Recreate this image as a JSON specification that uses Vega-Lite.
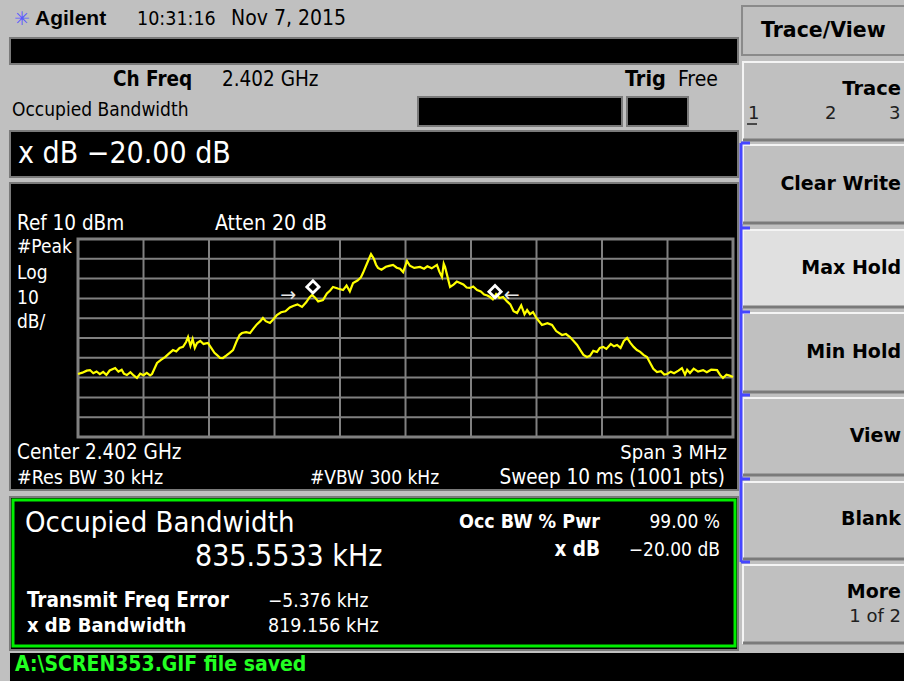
{
"$schema": "https://vega.github.io/schema/vega-lite/v6.json",
"width": 904, "height": 681, "padding": 0, "autosize": {"type": "none"},
"background": "#c0c0c0",
"config": {"view": {"stroke": null}, "axis": {"disable": true}},
"data": {"values": [{}]},
"datasets": {
"trace": [
{"f":-1.5,"dbm":-58.2},{"f":-1.48,"dbm":-57.5},{"f":-1.46,"dbm":-56.5},{"f":-1.445,"dbm":-56.2},{"f":-1.43,"dbm":-57.8},{"f":-1.415,"dbm":-56.9},{"f":-1.4,"dbm":-58.2},{"f":-1.385,"dbm":-57.1},{"f":-1.37,"dbm":-58.6},{"f":-1.355,"dbm":-56.4},{"f":-1.34,"dbm":-55.6},{"f":-1.33,"dbm":-55.2},{"f":-1.315,"dbm":-57.0},{"f":-1.3,"dbm":-56.0},{"f":-1.29,"dbm":-58.0},{"f":-1.276,"dbm":-58.7},{"f":-1.26,"dbm":-57.3},{"f":-1.245,"dbm":-58.9},{"f":-1.23,"dbm":-60.2},{"f":-1.215,"dbm":-58.0},{"f":-1.2,"dbm":-58.8},{"f":-1.185,"dbm":-57.6},{"f":-1.17,"dbm":-58.9},{"f":-1.161,"dbm":-58.2},{"f":-1.15,"dbm":-55.5},{"f":-1.138,"dbm":-52.6},{"f":-1.12,"dbm":-51.0},{"f":-1.1,"dbm":-49.5},{"f":-1.085,"dbm":-48.0},{"f":-1.065,"dbm":-46.1},{"f":-1.05,"dbm":-46.8},{"f":-1.035,"dbm":-45.0},{"f":-1.019,"dbm":-44.5},{"f":-1.005,"dbm":-42.0},{"f":-0.996,"dbm":-39.5},{"f":-0.985,"dbm":-44.0},{"f":-0.975,"dbm":-40.5},{"f":-0.965,"dbm":-45.0},{"f":-0.955,"dbm":-42.5},{"f":-0.94,"dbm":-41.5},{"f":-0.925,"dbm":-43.0},{"f":-0.905,"dbm":-42.5},{"f":-0.89,"dbm":-45.0},{"f":-0.875,"dbm":-47.5},{"f":-0.863,"dbm":-48.6},{"f":-0.85,"dbm":-50.0},{"f":-0.836,"dbm":-50.1},{"f":-0.82,"dbm":-48.8},{"f":-0.805,"dbm":-47.5},{"f":-0.79,"dbm":-46.1},{"f":-0.775,"dbm":-42.0},{"f":-0.76,"dbm":-38.5},{"f":-0.749,"dbm":-37.5},{"f":-0.73,"dbm":-37.0},{"f":-0.712,"dbm":-37.5},{"f":-0.695,"dbm":-35.0},{"f":-0.68,"dbm":-33.0},{"f":-0.665,"dbm":-31.5},{"f":-0.653,"dbm":-29.9},{"f":-0.64,"dbm":-31.5},{"f":-0.621,"dbm":-32.4},{"f":-0.605,"dbm":-30.5},{"f":-0.589,"dbm":-28.4},{"f":-0.57,"dbm":-27.0},{"f":-0.55,"dbm":-26.5},{"f":-0.53,"dbm":-24.6},{"f":-0.515,"dbm":-23.8},{"f":-0.495,"dbm":-23.0},{"f":-0.474,"dbm":-24.3},{"f":-0.455,"dbm":-22.0},{"f":-0.44,"dbm":-19.5},{"f":-0.428,"dbm":-18.3},{"f":-0.415,"dbm":-19.5},{"f":-0.4,"dbm":-21.5},{"f":-0.378,"dbm":-20.8},{"f":-0.36,"dbm":-17.5},{"f":-0.345,"dbm":-16.0},{"f":-0.332,"dbm":-14.2},{"f":-0.31,"dbm":-15.0},{"f":-0.286,"dbm":-15.8},{"f":-0.27,"dbm":-13.5},{"f":-0.255,"dbm":-16.5},{"f":-0.24,"dbm":-12.2},{"f":-0.22,"dbm":-11.0},{"f":-0.205,"dbm":-9.5},{"f":-0.195,"dbm":-7.2},{"f":-0.175,"dbm":-2.0},{"f":-0.158,"dbm":2.4},{"f":-0.145,"dbm":0.0},{"f":-0.135,"dbm":-3.0},{"f":-0.126,"dbm":-4.6},{"f":-0.11,"dbm":-5.5},{"f":-0.09,"dbm":-4.0},{"f":-0.075,"dbm":-3.6},{"f":-0.057,"dbm":-3.1},{"f":-0.04,"dbm":-4.5},{"f":-0.025,"dbm":-5.0},{"f":-0.011,"dbm":-6.7},{"f":0.007,"dbm":-1.1},{"f":0.02,"dbm":-3.5},{"f":0.04,"dbm":-4.6},{"f":0.066,"dbm":-4.1},{"f":0.085,"dbm":-5.0},{"f":0.1,"dbm":-3.8},{"f":0.12,"dbm":-4.8},{"f":0.144,"dbm":-3.1},{"f":0.155,"dbm":-6.5},{"f":0.167,"dbm":-9.2},{"f":0.175,"dbm":-2.5},{"f":0.181,"dbm":-4.1},{"f":0.19,"dbm":-8.0},{"f":0.204,"dbm":-14.2},{"f":0.22,"dbm":-13.0},{"f":0.235,"dbm":-11.5},{"f":0.25,"dbm":-12.2},{"f":0.265,"dbm":-13.0},{"f":0.28,"dbm":-14.5},{"f":0.295,"dbm":-14.7},{"f":0.31,"dbm":-14.0},{"f":0.328,"dbm":-15.8},{"f":0.345,"dbm":-16.5},{"f":0.36,"dbm":-18.0},{"f":0.375,"dbm":-18.5},{"f":0.387,"dbm":-19.3},{"f":0.4,"dbm":-20.5},{"f":0.415,"dbm":-17.8},{"f":0.43,"dbm":-19.8},{"f":0.447,"dbm":-19.3},{"f":0.465,"dbm":-21.5},{"f":0.48,"dbm":-23.0},{"f":0.495,"dbm":-26.5},{"f":0.511,"dbm":-27.4},{"f":0.53,"dbm":-23.5},{"f":0.545,"dbm":-28.0},{"f":0.557,"dbm":-25.9},{"f":0.57,"dbm":-28.0},{"f":0.584,"dbm":-26.9},{"f":0.6,"dbm":-30.0},{"f":0.625,"dbm":-33.4},{"f":0.65,"dbm":-32.5},{"f":0.671,"dbm":-33.4},{"f":0.69,"dbm":-36.5},{"f":0.717,"dbm":-38.5},{"f":0.735,"dbm":-38.0},{"f":0.753,"dbm":-39.5},{"f":0.77,"dbm":-41.5},{"f":0.786,"dbm":-43.5},{"f":0.8,"dbm":-46.0},{"f":0.815,"dbm":-48.5},{"f":0.831,"dbm":-49.6},{"f":0.845,"dbm":-49.0},{"f":0.86,"dbm":-46.5},{"f":0.877,"dbm":-47.1},{"f":0.89,"dbm":-45.0},{"f":0.905,"dbm":-44.5},{"f":0.92,"dbm":-45.5},{"f":0.94,"dbm":-43.0},{"f":0.955,"dbm":-44.2},{"f":0.969,"dbm":-43.5},{"f":0.985,"dbm":-45.0},{"f":1.0,"dbm":-41.5},{"f":1.015,"dbm":-40.0},{"f":1.03,"dbm":-42.5},{"f":1.045,"dbm":-44.5},{"f":1.06,"dbm":-46.1},{"f":1.075,"dbm":-47.0},{"f":1.09,"dbm":-48.5},{"f":1.106,"dbm":-49.6},{"f":1.12,"dbm":-52.5},{"f":1.135,"dbm":-55.5},{"f":1.152,"dbm":-57.2},{"f":1.17,"dbm":-56.8},{"f":1.185,"dbm":-58.5},{"f":1.198,"dbm":-58.2},{"f":1.215,"dbm":-57.0},{"f":1.23,"dbm":-57.8},{"f":1.25,"dbm":-56.5},{"f":1.266,"dbm":-55.2},{"f":1.28,"dbm":-58.5},{"f":1.29,"dbm":-56.0},{"f":1.303,"dbm":-57.7},{"f":1.32,"dbm":-55.5},{"f":1.34,"dbm":-57.0},{"f":1.363,"dbm":-56.2},{"f":1.38,"dbm":-57.3},{"f":1.4,"dbm":-56.0},{"f":1.427,"dbm":-56.2},{"f":1.44,"dbm":-58.5},{"f":1.454,"dbm":-60.2},{"f":1.47,"dbm":-58.5},{"f":1.485,"dbm":-59.0},{"f":1.5,"dbm":-59.7}
],
"vgrid": [{"f":-1.2},{"f":-0.9},{"f":-0.6},{"f":-0.3},{"f":0},{"f":0.3},{"f":0.6},{"f":0.9},{"f":1.2}],
"hgrid": [{"level":-80},{"level":-70},{"level":-60},{"level":-50},{"level":-40},{"level":-30},{"level":-20},{"level":-10},{"level":0}],
"markers": [{"f":-0.424,"dbm":-14.2},{"f":0.41,"dbm":-16.6}]
},
"layer": [
{"mark": {"type": "rect", "color": "#000000", "stroke": "#7a7a7a", "strokeWidth": 2},
 "encoding": {"x": {"datum": -1.8115, "type": "quantitative", "scale": {"domain": [-1.8573, 2.2832], "nice": false, "zero": false}}, "x2": {"datum": 1.5229}, "y": {"datum": 111.52, "type": "quantitative", "scale": {"domain": [-213.23, 130.71], "nice": false, "zero": false}}, "y2": {"datum": 98.38}}},
{"mark": {"type": "rect", "color": "#000000", "stroke": "#7a7a7a", "strokeWidth": 2}, "encoding": {"x": {"datum": 0.0573}, "x2": {"datum": 0.9916}, "y": {"datum": 81.72}, "y2": {"datum": 67.07}}},
{"mark": {"type": "rect", "color": "#000000", "stroke": "#7a7a7a", "strokeWidth": 2}, "encoding": {"x": {"datum": 1.0145}, "x2": {"datum": 1.2939}, "y": {"datum": 81.72}, "y2": {"datum": 67.07}}},
{"mark": {"type": "rect", "color": "#000000", "stroke": "#7a7a7a", "strokeWidth": 2}, "encoding": {"x": {"datum": -1.8115}, "x2": {"datum": 1.5229}, "y": {"datum": 64.55}, "y2": {"datum": 41.31}}},
{"mark": {"type": "rect", "color": "#000000", "stroke": "#7a7a7a", "strokeWidth": 2}, "encoding": {"x": {"datum": -1.8115}, "x2": {"datum": 1.5229}, "y": {"datum": 38.28}, "y2": {"datum": -116.77}}},
{"mark": {"type": "rect", "color": "#000000", "stroke": "#7a7a7a", "strokeWidth": 2}, "encoding": {"x": {"datum": -1.8115}, "x2": {"datum": 1.5229}, "y": {"datum": -120.30}, "y2": {"datum": -197.58}}},
{"mark": {"type": "rect", "color": "#000000"}, "encoding": {"x": {"datum": -1.8115}, "x2": {"datum": 2.3107}, "y": {"datum": -199.09}, "y2": {"datum": -213.5}}},
{"mark": {"type": "rect", "fillOpacity": 0, "stroke": "#00ee00", "strokeWidth": 3}, "encoding": {"x": {"datum": -1.7977}, "x2": {"datum": 1.5092}, "y": {"datum": -121.82}, "y2": {"datum": -195.56}}},
{"mark": {"type": "rect", "color": "#c0c0c0", "stroke": "#8a8a8a", "strokeWidth": 2}, "encoding": {"x": {"datum": 1.5413}, "x2": {"datum": 2.3107}, "y": {"datum": 127.68}, "y2": {"datum": 102.93}}},
{"mark": {"type": "rect", "color": "#c0c0c0", "stroke": "#f4f4f4", "strokeWidth": 2}, "encoding": {"x": {"datum": 1.5459}, "x2": {"datum": 2.3107}, "y": {"datum": 99.39}, "y2": {"datum": 60.0}}},
{"mark": {"type": "rect", "color": "#c0c0c0", "stroke": "#f4f4f4", "strokeWidth": 2}, "encoding": {"x": {"datum": 1.5459}, "x2": {"datum": 2.3107}, "y": {"datum": 57.47}, "y2": {"datum": 18.08}}},
{"mark": {"type": "rect", "color": "#e0e0e0", "stroke": "#f4f4f4", "strokeWidth": 2}, "encoding": {"x": {"datum": 1.5459}, "x2": {"datum": 2.3107}, "y": {"datum": 14.55}, "y2": {"datum": -24.34}}},
{"mark": {"type": "rect", "color": "#c0c0c0", "stroke": "#f4f4f4", "strokeWidth": 2}, "encoding": {"x": {"datum": 1.5459}, "x2": {"datum": 2.3107}, "y": {"datum": -27.37}, "y2": {"datum": -67.27}}},
{"mark": {"type": "rect", "color": "#c0c0c0", "stroke": "#f4f4f4", "strokeWidth": 2}, "encoding": {"x": {"datum": 1.5459}, "x2": {"datum": 2.3107}, "y": {"datum": -70.30}, "y2": {"datum": -109.19}}},
{"mark": {"type": "rect", "color": "#c0c0c0", "stroke": "#f4f4f4", "strokeWidth": 2}, "encoding": {"x": {"datum": 1.5459}, "x2": {"datum": 2.3107}, "y": {"datum": -112.73}, "y2": {"datum": -151.62}}},
{"mark": {"type": "rect", "color": "#c0c0c0", "stroke": "#f4f4f4", "strokeWidth": 2}, "encoding": {"x": {"datum": 1.5459}, "x2": {"datum": 2.3107}, "y": {"datum": -154.65}, "y2": {"datum": -194.04}}},
{"mark": {"type": "rule", "color": "#7a7a7a", "strokeWidth": 3}, "encoding": {"x": {"datum": 1.5459}, "x2": {"datum": 2.3107}, "y": {"datum": 60.0}}},
{"mark": {"type": "rule", "color": "#7a7a7a", "strokeWidth": 3}, "encoding": {"x": {"datum": 1.5459}, "x2": {"datum": 2.3107}, "y": {"datum": 18.08}}},
{"mark": {"type": "rule", "color": "#7a7a7a", "strokeWidth": 3}, "encoding": {"x": {"datum": 1.5459}, "x2": {"datum": 2.3107}, "y": {"datum": -24.34}}},
{"mark": {"type": "rule", "color": "#7a7a7a", "strokeWidth": 3}, "encoding": {"x": {"datum": 1.5459}, "x2": {"datum": 2.3107}, "y": {"datum": -67.27}}},
{"mark": {"type": "rule", "color": "#7a7a7a", "strokeWidth": 3}, "encoding": {"x": {"datum": 1.5459}, "x2": {"datum": 2.3107}, "y": {"datum": -109.19}}},
{"mark": {"type": "rule", "color": "#7a7a7a", "strokeWidth": 3}, "encoding": {"x": {"datum": 1.5459}, "x2": {"datum": 2.3107}, "y": {"datum": -151.62}}},
{"mark": {"type": "rule", "color": "#7a7a7a", "strokeWidth": 3}, "encoding": {"x": {"datum": 1.5459}, "x2": {"datum": 2.3107}, "y": {"datum": -194.04}}},
{"mark": {"type": "rule", "color": "#4646ff", "strokeWidth": 3}, "encoding": {"x": {"datum": 1.5367}, "y": {"datum": 58.48}, "y2": {"datum": -153.13}}},
{"mark": {"type": "rule", "color": "#4646ff", "strokeWidth": 3}, "encoding": {"x": {"datum": 1.5367}, "x2": {"datum": 1.5779}, "y": {"datum": 58.48}}},
{"mark": {"type": "rule", "color": "#4646ff", "strokeWidth": 3}, "encoding": {"x": {"datum": 1.5367}, "x2": {"datum": 1.5779}, "y": {"datum": 15.56}}},
{"mark": {"type": "rule", "color": "#4646ff", "strokeWidth": 3}, "encoding": {"x": {"datum": 1.5367}, "x2": {"datum": 1.5779}, "y": {"datum": -26.87}}},
{"mark": {"type": "rule", "color": "#4646ff", "strokeWidth": 3}, "encoding": {"x": {"datum": 1.5367}, "x2": {"datum": 1.5779}, "y": {"datum": -68.79}}},
{"mark": {"type": "rule", "color": "#4646ff", "strokeWidth": 3}, "encoding": {"x": {"datum": 1.5367}, "x2": {"datum": 1.5779}, "y": {"datum": -111.21}}},
{"mark": {"type": "rule", "color": "#4646ff", "strokeWidth": 3}, "encoding": {"x": {"datum": 1.5367}, "x2": {"datum": 1.5779}, "y": {"datum": -153.13}}},
{"data": {"name": "vgrid"}, "mark": {"type": "rule", "color": "#808080", "strokeWidth": 2}, "encoding": {"x": {"field": "f", "type": "quantitative"}, "y": {"datum": -90}, "y2": {"datum": 10}}},
{"data": {"name": "hgrid"}, "mark": {"type": "rule", "color": "#808080", "strokeWidth": 2}, "encoding": {"y": {"field": "level", "type": "quantitative"}, "x": {"datum": -1.5}, "x2": {"datum": 1.5}}},
{"mark": {"type": "rect", "fillOpacity": 0, "stroke": "#808080", "strokeWidth": 3}, "encoding": {"x": {"datum": -1.5}, "x2": {"datum": 1.5}, "y": {"datum": 10}, "y2": {"datum": -90}}},
{"data": {"name": "trace"}, "mark": {"type": "line", "color": "#ffff00", "strokeWidth": 2.2, "interpolate": "linear"}, "encoding": {"x": {"field": "f", "type": "quantitative"}, "y": {"field": "dbm", "type": "quantitative"}}},
{"data": {"name": "markers"}, "mark": {"type": "point", "shape": "diamond", "filled": false, "stroke": "#ffffff", "strokeWidth": 2.8, "size": 150, "opacity": 1}, "encoding": {"x": {"field": "f", "type": "quantitative"}, "y": {"field": "dbm", "type": "quantitative"}}},
{"mark": {"type": "text", "text": "→", "font": "DejaVu Sans", "fontSize": 19, "color": "#e8e8e8", "align": "center", "baseline": "middle"}, "encoding": {"x": {"datum": -0.537}, "y": {"datum": -18.3}}},
{"mark": {"type": "text", "text": "←", "font": "DejaVu Sans", "fontSize": 19, "color": "#e8e8e8", "align": "center", "baseline": "middle"}, "encoding": {"x": {"datum": 0.486}, "y": {"datum": -18.3}}},
{"mark": {"type": "text", "text": "✳", "font": "DejaVu Sans", "fontSize": 19, "color": "#5a5aff", "align": "center", "baseline": "middle"}, "encoding": {"x": {"datum": -1.7565}, "y": {"datum": 121.11}}},
{"mark": {"type": "text", "text": "Agilent", "font": "Liberation Sans", "fontWeight": "bold", "fontSize": 21, "color": "#000000", "align": "left", "baseline": "middle"}, "encoding": {"x": {"datum": -1.6969}, "y": {"datum": 121.11}}},
{"mark": {"type": "text", "text": "10:31:16", "font": "DejaVu Sans Condensed", "fontSize": 19.5, "color": "#000000", "align": "left", "baseline": "middle"}, "encoding": {"x": {"datum": -1.2298}, "y": {"datum": 121.11}}},
{"mark": {"type": "text", "text": "Nov 7, 2015", "font": "DejaVu Sans Condensed", "fontSize": 21, "color": "#000000", "align": "left", "baseline": "middle"}, "encoding": {"x": {"datum": -0.7992}, "y": {"datum": 121.11}}},
{"mark": {"type": "text", "text": "Ch Freq", "font": "DejaVu Sans Condensed", "fontWeight": "bold", "fontSize": 20.5, "color": "#000000", "align": "left", "baseline": "middle"}, "encoding": {"x": {"datum": -1.3397}, "y": {"datum": 90.30}}},
{"mark": {"type": "text", "text": "2.402 GHz", "font": "DejaVu Sans Condensed", "fontSize": 20.5, "color": "#000000", "align": "left", "baseline": "middle"}, "encoding": {"x": {"datum": -0.8404}, "y": {"datum": 90.30}}},
{"mark": {"type": "text", "text": "Trig", "font": "DejaVu Sans Condensed", "fontWeight": "bold", "fontSize": 21.5, "color": "#000000", "align": "left", "baseline": "middle"}, "encoding": {"x": {"datum": 1.0054}, "y": {"datum": 90.30}}},
{"mark": {"type": "text", "text": "Free", "font": "DejaVu Sans Condensed", "fontSize": 21, "color": "#000000", "align": "left", "baseline": "middle"}, "encoding": {"x": {"datum": 1.2481}, "y": {"datum": 90.30}}},
{"mark": {"type": "text", "text": "Occupied Bandwidth", "font": "DejaVu Sans Condensed", "fontSize": 19, "color": "#000000", "align": "left", "baseline": "middle"}, "encoding": {"x": {"datum": -1.8023}, "y": {"datum": 75.15}}},
{"mark": {"type": "text", "text": "x dB −20.00 dB", "font": "DejaVu Sans Condensed", "fontSize": 30, "color": "#ffffff", "align": "left", "baseline": "middle"}, "encoding": {"x": {"datum": -1.7748}, "y": {"datum": 52.93}}},
{"mark": {"type": "text", "text": "Ref 10 dBm", "font": "DejaVu Sans Condensed", "fontSize": 20.5, "color": "#ffffff", "align": "left", "baseline": "middle"}, "encoding": {"x": {"datum": -1.7794}, "y": {"datum": 17.58}}},
{"mark": {"type": "text", "text": "Atten 20 dB", "font": "DejaVu Sans Condensed", "fontSize": 21, "color": "#ffffff", "align": "left", "baseline": "middle"}, "encoding": {"x": {"datum": -0.8725}, "y": {"datum": 17.58}}},
{"mark": {"type": "text", "text": "#Peak", "font": "DejaVu Sans Condensed", "fontSize": 19, "color": "#ffffff", "align": "left", "baseline": "middle"}, "encoding": {"x": {"datum": -1.7794}, "y": {"datum": 5.96}}},
{"mark": {"type": "text", "text": "Log", "font": "DejaVu Sans Condensed", "fontSize": 19, "color": "#ffffff", "align": "left", "baseline": "middle"}, "encoding": {"x": {"datum": -1.7794}, "y": {"datum": -7.17}}},
{"mark": {"type": "text", "text": "10", "font": "DejaVu Sans Condensed", "fontSize": 19, "color": "#ffffff", "align": "left", "baseline": "middle"}, "encoding": {"x": {"datum": -1.7794}, "y": {"datum": -19.80}}},
{"mark": {"type": "text", "text": "dB/", "font": "DejaVu Sans Condensed", "fontSize": 19, "color": "#ffffff", "align": "left", "baseline": "middle"}, "encoding": {"x": {"datum": -1.7794}, "y": {"datum": -31.92}}},
{"mark": {"type": "text", "text": "Center 2.402 GHz", "font": "DejaVu Sans Condensed", "fontSize": 20.5, "color": "#ffffff", "align": "left", "baseline": "middle"}, "encoding": {"x": {"datum": -1.7794}, "y": {"datum": -98.08}}},
{"mark": {"type": "text", "text": "Span 3 MHz", "font": "DejaVu Sans Condensed", "fontSize": 20, "color": "#ffffff", "align": "right", "baseline": "middle"}, "encoding": {"x": {"datum": 1.4725}, "y": {"datum": -98.08}}},
{"mark": {"type": "text", "text": "#Res BW 30 kHz", "font": "DejaVu Sans Condensed", "fontSize": 19.5, "color": "#ffffff", "align": "left", "baseline": "middle"}, "encoding": {"x": {"datum": -1.7794}, "y": {"datum": -110.71}}},
{"mark": {"type": "text", "text": "#VBW 300 kHz", "font": "DejaVu Sans Condensed", "fontSize": 19, "color": "#ffffff", "align": "left", "baseline": "middle"}, "encoding": {"x": {"datum": -0.4374}, "y": {"datum": -110.71}}},
{"mark": {"type": "text", "text": "Sweep 10 ms (1001 pts)", "font": "DejaVu Sans Condensed", "fontSize": 20.5, "color": "#ffffff", "align": "right", "baseline": "middle"}, "encoding": {"x": {"datum": 1.4634}, "y": {"datum": -110.71}}},
{"mark": {"type": "text", "text": "Occupied Bandwidth", "font": "DejaVu Sans Condensed", "fontSize": 29, "color": "#ffffff", "align": "left", "baseline": "middle"}, "encoding": {"x": {"datum": -1.7427}, "y": {"datum": -133.43}}},
{"mark": {"type": "text", "text": "835.5533 kHz", "font": "DejaVu Sans Condensed", "fontSize": 30, "color": "#ffffff", "align": "left", "baseline": "middle"}, "encoding": {"x": {"datum": -0.9641}, "y": {"datum": -150.61}}},
{"mark": {"type": "text", "text": "Occ BW % Pwr", "font": "DejaVu Sans Condensed", "fontWeight": "bold", "fontSize": 19.5, "color": "#ffffff", "align": "right", "baseline": "middle"}, "encoding": {"x": {"datum": 0.8909}, "y": {"datum": -132.93}}},
{"mark": {"type": "text", "text": "99.00 %", "font": "DejaVu Sans Condensed", "fontSize": 19, "color": "#ffffff", "align": "right", "baseline": "middle"}, "encoding": {"x": {"datum": 1.4405}, "y": {"datum": -132.93}}},
{"mark": {"type": "text", "text": "x dB", "font": "DejaVu Sans Condensed", "fontWeight": "bold", "fontSize": 20.5, "color": "#ffffff", "align": "right", "baseline": "middle"}, "encoding": {"x": {"datum": 0.8909}, "y": {"datum": -147.07}}},
{"mark": {"type": "text", "text": "−20.00 dB", "font": "DejaVu Sans Condensed", "fontSize": 19, "color": "#ffffff", "align": "right", "baseline": "middle"}, "encoding": {"x": {"datum": 1.4405}, "y": {"datum": -147.07}}},
{"mark": {"type": "text", "text": "Transmit Freq Error", "font": "DejaVu Sans Condensed", "fontWeight": "bold", "fontSize": 20.5, "color": "#ffffff", "align": "left", "baseline": "middle"}, "encoding": {"x": {"datum": -1.7336}, "y": {"datum": -172.83}}},
{"mark": {"type": "text", "text": "−5.376 kHz", "font": "DejaVu Sans Condensed", "fontSize": 19, "color": "#ffffff", "align": "left", "baseline": "middle"}, "encoding": {"x": {"datum": -0.6298}, "y": {"datum": -172.83}}},
{"mark": {"type": "text", "text": "x dB Bandwidth", "font": "DejaVu Sans Condensed", "fontWeight": "bold", "fontSize": 20, "color": "#ffffff", "align": "left", "baseline": "middle"}, "encoding": {"x": {"datum": -1.7336}, "y": {"datum": -185.45}}},
{"mark": {"type": "text", "text": "819.156 kHz", "font": "DejaVu Sans Condensed", "fontSize": 19.5, "color": "#ffffff", "align": "left", "baseline": "middle"}, "encoding": {"x": {"datum": -0.6298}, "y": {"datum": -185.45}}},
{"mark": {"type": "text", "text": "A:\\SCREN353.GIF file saved", "font": "DejaVu Sans Condensed", "fontWeight": "bold", "fontSize": 21, "color": "#22ff22", "align": "left", "baseline": "middle"}, "encoding": {"x": {"datum": -1.7886}, "y": {"datum": -205.15}}},
{"mark": {"type": "text", "text": "Trace/View", "font": "DejaVu Sans", "fontWeight": "bold", "fontSize": 20.5, "color": "#000000", "align": "left", "baseline": "middle"}, "encoding": {"x": {"datum": 1.6283}, "y": {"datum": 115.05}}},
{"mark": {"type": "text", "text": "Trace", "font": "DejaVu Sans", "fontWeight": "bold", "fontSize": 19.5, "color": "#000000", "align": "right", "baseline": "middle"}, "encoding": {"x": {"datum": 2.2695}, "y": {"datum": 85.76}}},
{"mark": {"type": "text", "text": "1", "font": "DejaVu Sans", "fontSize": 18, "color": "#202020", "align": "left", "baseline": "middle"}, "encoding": {"x": {"datum": 1.5687}, "y": {"datum": 73.13}}},
{"mark": {"type": "rule", "color": "#202020", "strokeWidth": 1.5}, "encoding": {"x": {"datum": 1.5642}, "x2": {"datum": 1.6100}, "y": {"datum": 68.08}}},
{"mark": {"type": "text", "text": "2", "font": "DejaVu Sans", "fontSize": 18, "color": "#202020", "align": "left", "baseline": "middle"}, "encoding": {"x": {"datum": 1.9214}, "y": {"datum": 73.13}}},
{"mark": {"type": "text", "text": "3", "font": "DejaVu Sans", "fontSize": 18, "color": "#202020", "align": "left", "baseline": "middle"}, "encoding": {"x": {"datum": 2.2146}, "y": {"datum": 73.13}}},
{"mark": {"type": "text", "text": "Clear Write", "font": "DejaVu Sans", "fontWeight": "bold", "fontSize": 19, "color": "#000000", "align": "right", "baseline": "middle"}, "encoding": {"x": {"datum": 2.2695}, "y": {"datum": 37.78}}},
{"mark": {"type": "text", "text": "Max Hold", "font": "DejaVu Sans", "fontWeight": "bold", "fontSize": 19, "color": "#000000", "align": "right", "baseline": "middle"}, "encoding": {"x": {"datum": 2.2695}, "y": {"datum": -4.65}}},
{"mark": {"type": "text", "text": "Min Hold", "font": "DejaVu Sans", "fontWeight": "bold", "fontSize": 19, "color": "#000000", "align": "right", "baseline": "middle"}, "encoding": {"x": {"datum": 2.2695}, "y": {"datum": -47.07}}},
{"mark": {"type": "text", "text": "View", "font": "DejaVu Sans", "fontWeight": "bold", "fontSize": 19, "color": "#000000", "align": "right", "baseline": "middle"}, "encoding": {"x": {"datum": 2.2695}, "y": {"datum": -89.49}}},
{"mark": {"type": "text", "text": "Blank", "font": "DejaVu Sans", "fontWeight": "bold", "fontSize": 19, "color": "#000000", "align": "right", "baseline": "middle"}, "encoding": {"x": {"datum": 2.2695}, "y": {"datum": -131.41}}},
{"mark": {"type": "text", "text": "More", "font": "DejaVu Sans", "fontWeight": "bold", "fontSize": 19, "color": "#000000", "align": "right", "baseline": "middle"}, "encoding": {"x": {"datum": 2.2695}, "y": {"datum": -168.28}}},
{"mark": {"type": "text", "text": "1 of 2", "font": "DejaVu Sans", "fontSize": 18, "color": "#202020", "align": "right", "baseline": "middle"}, "encoding": {"x": {"datum": 2.2695}, "y": {"datum": -180.91}}}
]
}
